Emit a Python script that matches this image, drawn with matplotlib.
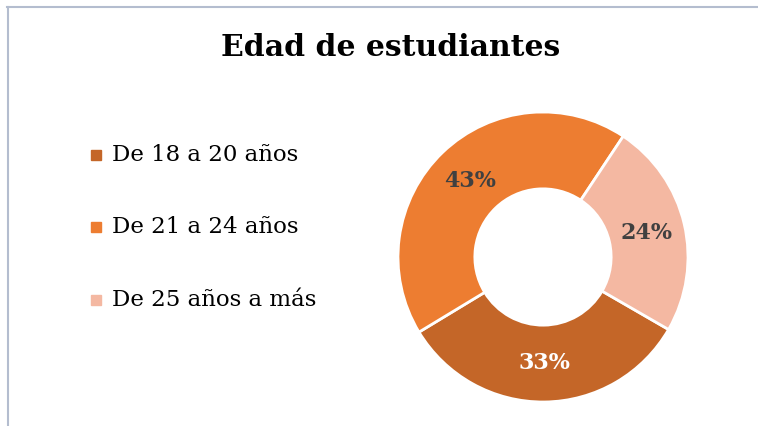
import matplotlib.pyplot as plt
from matplotlib.lines import Line2D

categories = ['De 18 a 20 años', 'De 21 a 24 años', 'De 25 años a más']
percentages = [33, 43, 24]
colors = ['#C46628', '#ED7D31', '#F4B8A2']
label_colors = ['white', '#404040', '#404040']

W, H = 758, 426
fig = plt.figure(figsize=(W / 100, H / 100), dpi=100)
plt.rcParams['font.family'] = ['DejaVu Serif']

# chart border, cropped at right and bottom
fig.add_artist(Line2D([7 / W, 1], [1 - 6.5 / H, 1 - 6.5 / H], color='#B4BDCF', lw=1.5))
fig.add_artist(Line2D([7.5 / W, 7.5 / W], [0, 1 - 6.5 / H], color='#B4BDCF', lw=1.5))

fig.text(391 / W, 1 - 48 / H, 'Edad de estudiantes', ha='center', va='center',
         fontsize=21.5, fontweight='bold', color='black')

# donut
cx, cy, r = 543, 257, 145
half = 150
ax = fig.add_axes([(cx - half) / W, (H - cy - half) / H, 2 * half / W, 2 * half / H])

wedges, texts, autotexts = ax.pie(
    percentages, colors=colors, startangle=-30, counterclock=False, radius=1,
    autopct='%d%%', pctdistance=0.73,
    wedgeprops=dict(width=0.53, edgecolor='white', linewidth=2))
for t, c in zip(autotexts, label_colors):
    t.set_color(c)
    t.set_fontsize(16)
    t.set_fontweight('bold')

lim = half / r
ax.set_xlim(-lim, lim)
ax.set_ylim(-lim, lim)
ax.set_aspect('equal')
ax.axis('off')

# legend
ys = [155, 227, 300]
for name, col, y in zip(categories, colors, ys):
    fig.patches.append(plt.Rectangle((91 / W, 1 - (y + 5) / H), 10 / W, 10 / H,
                                     transform=fig.transFigure, color=col))
    fig.text(112 / W, 1 - y / H, name, ha='left', va='center',
             fontsize=16.5, color='black')

fig.savefig('out.png', dpi=100)
